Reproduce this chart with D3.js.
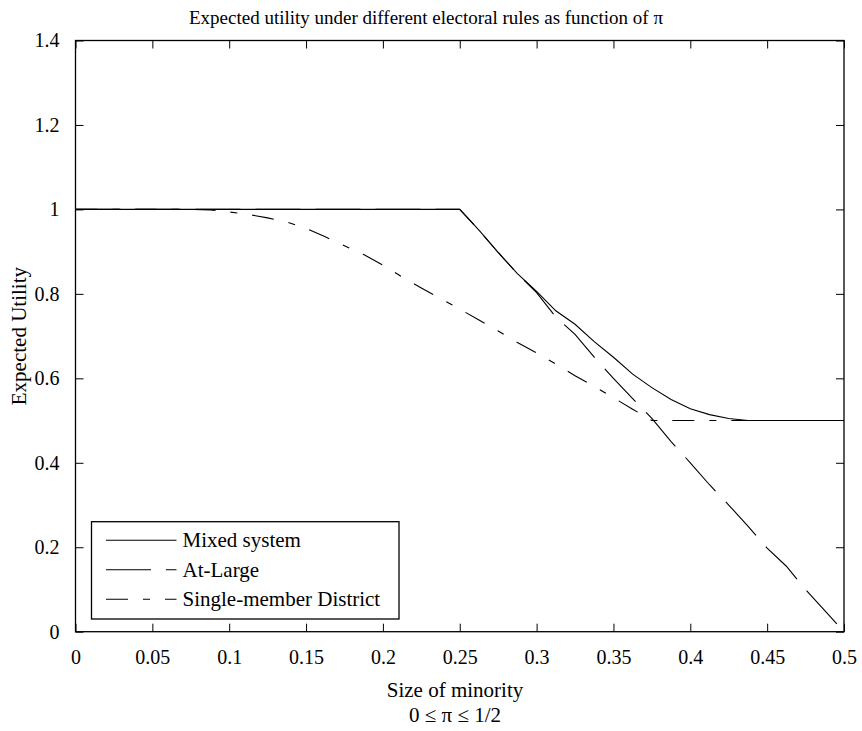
<!DOCTYPE html>
<html>
<head>
<meta charset="utf-8">
<script src="https://cdn.jsdelivr.net/npm/d3@7"></script>
<style>
  body { margin: 0; background: #fff; }
  text { font-family: 'Liberation Serif', 'DejaVu Serif', serif; fill: #000; }
</style>
</head>
<body>
<div id="chart"></div>
<script>
// minority share (pi) sampled every 0.0125
const piValues = d3.range(0, 41).map(i => +(i * 0.0125).toFixed(4));

const mixedSystem = [
  1, 1, 1, 1, 1, 1, 1, 1, 1, 1,
  1, 1, 1, 1, 1, 1, 1, 1, 1, 1,
  1, 0.951, 0.898, 0.848, 0.806, 0.76, 0.728, 0.687, 0.65, 0.61,
  0.578, 0.55, 0.528, 0.514, 0.505, 0.5, 0.5, 0.5, 0.5, 0.5, 0.5
];

const atLarge = [
  1, 1, 1, 1, 1, 1, 1, 1, 1, 1,
  1, 1, 1, 1, 1, 1, 1, 1, 1, 1,
  1, 0.951, 0.898, 0.848, 0.803, 0.745, 0.704, 0.65, 0.6, 0.552,
  0.505, 0.45, 0.4, 0.348, 0.3, 0.25, 0.198, 0.155, 0.1, 0.05, 0
];

const singleMember = [
  1, 1, 1, 1, 1, 1, 1, 0.999, 0.994, 0.988,
  0.98, 0.97, 0.955, 0.935, 0.914, 0.893, 0.868, 0.84, 0.814, 0.789,
  0.764, 0.738, 0.712, 0.685, 0.66, 0.634, 0.606, 0.581, 0.554, 0.527,
  0.5, 0.5, 0.5, 0.5, 0.5, 0.5, 0.5, 0.5, 0.5, 0.5, 0.5
];

const seriesNames = ['Mixed system', 'At-Large', 'Single-member District'];
const seriesDash = [null, '45,15', '22,15,7,15'];
const xTicks = d3.range(0, 11).map(i => i * 0.05);
const yTicks = d3.range(0, 8).map(i => i * 0.2);

const width = 862, height = 731;
const margin = { top: 40.5, right: 18, bottom: 99.3, left: 75.5 };
const plotW = width - margin.left - margin.right;
const plotH = height - margin.top - margin.bottom;
const tickLen = 8;
const serif = "'Liberation Serif', 'DejaVu Serif', serif";

const svg = d3.select('#chart').append('svg')
  .attr('width', width)
  .attr('height', height);

const x = d3.scaleLinear().domain([0, 0.5]).range([0, plotW]);
const y = d3.scaleLinear().domain([0, 1.4]).range([plotH, 0]);

const g = svg.append('g')
  .attr('transform', 'translate(' + margin.left + ',' + margin.top + ')');

//Data lines
const series = [mixedSystem, atLarge, singleMember].map((vals, i) => ({
  name: seriesNames[i],
  dash: seriesDash[i],
  points: piValues.map((p, j) => [p, vals[j]])
}));

const line = d3.line()
  .x(d => x(d[0]))
  .y(d => y(d[1]));

g.selectAll('.series')
  .data(series.slice().reverse())
  .enter()
  .append('path')
  .attr('class', 'series')
  .attr('fill', 'none')
  .attr('stroke', '#000')
  .attr('stroke-width', 1.1)
  .attr('stroke-dasharray', d => d.dash)
  .attr('d', d => line(d.points));

//Axes, ticks pointing inward on all four sides
const fmt = d => d3.format('~g')(+d.toFixed(2));

const styleAxis = function(sel) {
  sel.attr('font-family', serif);
  sel.select('.domain').remove();
  sel.selectAll('.tick line').attr('stroke', '#000').attr('stroke-width', 1);
  sel.selectAll('.tick text')
    .style('font-family', serif)
    .style('font-size', '20px')
    .attr('fill', '#000');
};

g.append('g')
  .attr('transform', 'translate(0,' + plotH + ')')
  .call(d3.axisBottom(x).tickValues(xTicks).tickSizeInner(-tickLen).tickSizeOuter(0).tickPadding(18).tickFormat(fmt))
  .call(styleAxis);

g.append('g')
  .call(d3.axisTop(x).tickValues(xTicks).tickSizeInner(-tickLen).tickSizeOuter(0).tickFormat(''))
  .call(styleAxis);

g.append('g')
  .call(d3.axisLeft(y).tickValues(yTicks).tickSizeInner(-tickLen).tickSizeOuter(0).tickPadding(16).tickFormat(fmt))
  .call(styleAxis);

g.append('g')
  .attr('transform', 'translate(' + plotW + ',0)')
  .call(d3.axisRight(y).tickValues(yTicks).tickSizeInner(-tickLen).tickSizeOuter(0).tickFormat(''))
  .call(styleAxis);

g.append('rect')
  .attr('width', plotW)
  .attr('height', plotH)
  .attr('fill', 'none')
  .attr('stroke', '#000')
  .attr('stroke-width', 1.3);

//Legend
const legend = g.append('g')
  .attr('transform', 'translate(' + (91.5 - margin.left) + ',' + (521.7 - margin.top) + ')');

legend.append('rect')
  .attr('width', 307.5)
  .attr('height', 97.3)
  .attr('fill', '#fff')
  .attr('stroke', '#000')
  .attr('stroke-width', 1.3);

const item = legend.selectAll('.item')
  .data(series)
  .enter()
  .append('g')
  .attr('class', 'item')
  .attr('transform', (d, i) => 'translate(0,' + (18.5 + i * 29.5) + ')');

item.append('line')
  .attr('x1', 14.5)
  .attr('x2', 85)
  .attr('stroke', '#000')
  .attr('stroke-width', 1.1)
  .attr('stroke-dasharray', d => d.dash);

item.append('text')
  .attr('x', 91)
  .attr('dy', '0.33em')
  .style('font-size', '21px')
  .text(d => d.name);

//Titles and axis labels
svg.append('text')
  .attr('x', 426)
  .attr('y', 24)
  .attr('text-anchor', 'middle')
  .style('font-size', '19px')
  .text('Expected utility under different electoral rules as function of π');

svg.append('text')
  .attr('x', 455)
  .attr('y', 697)
  .attr('text-anchor', 'middle')
  .style('font-size', '21px')
  .text('Size of minority');

svg.append('text')
  .attr('x', 455)
  .attr('y', 722)
  .attr('text-anchor', 'middle')
  .style('font-size', '21px')
  .text('0 ≤ π ≤ 1/2');

svg.append('text')
  .attr('transform', 'translate(26,' + (margin.top + plotH / 2) + ') rotate(-90)')
  .attr('text-anchor', 'middle')
  .style('font-size', '21px')
  .text('Expected Utility');
</script>
</body>
</html>
